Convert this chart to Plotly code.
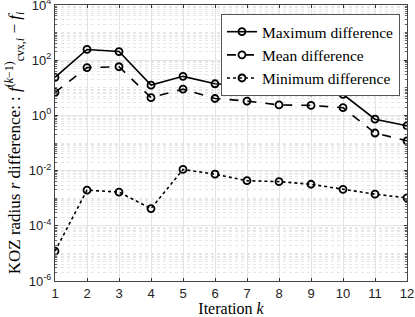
import plotly.graph_objects as go

iterations = list(range(1, 13))
max_diff = [24, 245, 206, 12.5, 26, 14, 12.5, 8.2, 7.1, 5.8, 0.73, 0.42]
mean_diff = [6.8, 54, 58, 4.4, 8.9, 4.1, 3.3, 2.4, 2.3, 1.9, 0.23, 0.12]
min_diff = [1.2e-5, 1.96e-3, 1.66e-3, 4.2e-4, 1.1e-2, 7.4e-3, 4.3e-3, 4.0e-3, 3.2e-3, 2.1e-3, 1.4e-3, 1.03e-3]

series_names = ["Maximum difference", "Mean difference", "Minimum difference"]
dashes = ["solid", "dash", "dot"]

major_exps = [-6, -4, -2, 0, 2, 4]
tick_vals = [10.0 ** e for e in major_exps]
tick_text = ["10<sup>%d</sup>" % e for e in major_exps]
minor_vals = []
for n in range(-6, 4):
    for k in range(1, 10):
        if k == 1 and n in major_exps:
            continue
        minor_vals.append(k * 10.0 ** n)

fig = go.Figure()
for name, vals, d in zip(series_names, [max_diff, mean_diff, min_diff], dashes):
    fig.add_trace(go.Scatter(
        x=iterations, y=vals, name=name, mode="lines+markers",
        line=dict(color="black", width=1.6, dash=d),
        marker=dict(symbol="circle-open", size=7, color="black", line=dict(width=1.8)),
    ))

fig.update_layout(
    width=415, height=317,
    margin=dict(l=55, r=8, t=5, b=36),
    paper_bgcolor="white", plot_bgcolor="white",
    font=dict(family="Liberation Serif, DejaVu Serif, serif", size=15, color="black"),
    showlegend=True,
    legend=dict(
        x=0.98, y=0.967, xanchor="right", yanchor="top",
        bordercolor="#555", borderwidth=1, bgcolor="white",
        font=dict(family="Liberation Serif, serif", size=15.5),
        tracegroupgap=0, itemwidth=30,
    ),
)
fig.update_xaxes(
    range=[1, 12], tickmode="array", tickvals=iterations,
    ticks="inside", ticklen=3, tickcolor="#333",
    showgrid=True, gridcolor="#e3e3e3", gridwidth=1,
    showline=True, linecolor="#444", linewidth=1, mirror="ticks",
    zeroline=False, automargin=False, ticklabeloverflow="allow",
    tickfont=dict(family="Liberation Sans, Arial, sans-serif", size=13, color="#222"),
    title=dict(text="Iteration <i>k</i>", font=dict(size=16), standoff=7),
)
fig.update_yaxes(
    type="log", range=[-6, 4],
    tickmode="array", tickvals=tick_vals, ticktext=tick_text,
    ticks="inside", ticklen=3, tickcolor="#333",
    showgrid=True, gridcolor="#e3e3e3", gridwidth=1,
    minor=dict(tickmode="array", tickvals=minor_vals, showgrid=True,
               gridcolor="#e6e6e6", griddash="dot", ticks="inside", ticklen=2, tickcolor="#666"),
    showline=True, linecolor="#444", linewidth=1, mirror="ticks",
    zeroline=False, automargin=False, ticklabeloverflow="allow",
    tickfont=dict(family="Liberation Sans, Arial, sans-serif", size=13, color="#222"),
    title=dict(text="KOZ radius <i>r</i> difference: : <i>f</i><sup>(<i>k</i>−1)</sup><sub>cvx,<i>i</i></sub> − <i>f<sub>i</sub></i>",
               font=dict(size=17), standoff=3),
)

fig.write_html("out.html", config={"displayModeBar": False},
               post_script="document.body.style.margin='0';document.body.style.overflow='hidden';")
